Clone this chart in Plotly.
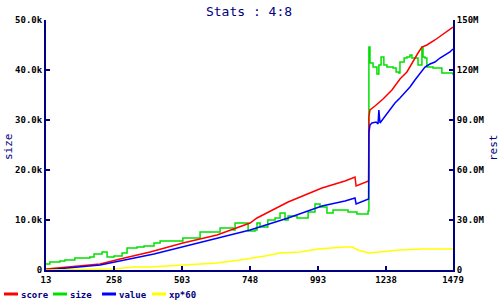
import plotly.graph_objects as go

# ---- data ----
score_x = [13, 208, 280, 388, 506, 629, 748, 773, 885, 1007, 1090, 1126, 1130, 1175,
           1176, 1180, 1198, 1227, 1259, 1288, 1313, 1335, 1353, 1367, 1385, 1414, 1450, 1479]
score_y = [0.6, 3.6, 6.6, 10.8, 16.2, 21.0, 28.2, 31.2, 40.8, 49.2, 53.4, 55.8, 50.4, 53.4,
           91.8, 96.0, 98.4, 102.6, 108.0, 114.6, 118.8, 125.4, 130.2, 133.8, 135.0, 138.0, 142.2, 145.8]

value_x = [13, 208, 402, 506, 629, 748, 885, 1007, 1090, 1126, 1130, 1162, 1175,
           1176, 1180, 1187, 1202, 1209, 1212, 1216, 1234, 1252, 1270, 1288, 1306, 1324,
           1342, 1360, 1378, 1396, 1414, 1432, 1450, 1468, 1479]
value_y = [0.0, 3.0, 9.6, 13.8, 19.2, 24.0, 31.2, 38.4, 41.4, 43.2, 39.6, 42.0, 42.6,
           82.2, 87.0, 88.2, 88.8, 87.6, 96.0, 88.2, 92.4, 96.0, 100.2, 103.2, 106.2, 109.8,
           114.0, 118.2, 121.8, 123.6, 124.8, 127.2, 129.0, 130.8, 132.6]

size_x = [13, 27, 63, 81, 117, 171, 186, 215, 233, 258, 287, 305, 341, 366, 402, 424, 506,
          568, 629, 640, 687, 694, 723, 741, 766, 773, 784, 802, 812, 838, 856, 870, 874,
          885, 917, 957, 982, 1000, 1025, 1047, 1090, 1101, 1126, 1133, 1173,
          1176, 1180, 1191, 1205, 1209, 1212, 1220, 1227, 1230, 1241, 1259, 1263, 1274,
          1284, 1288, 1303, 1313, 1324, 1331, 1349, 1353, 1364, 1367, 1371, 1378, 1385,
          1403, 1407, 1432, 1439, 1468, 1479]
size_y = [1.2, 1.6, 1.8, 2.0, 2.4, 2.6, 3.2, 3.6, 2.6, 2.8, 3.4, 4.4, 4.6, 4.8, 5.4, 5.8, 6.4,
          7.6, 7.6, 8.4, 8.0, 9.4, 9.4, 7.8, 8.0, 9.4, 8.6, 8.6, 10.0, 10.4, 11.4, 11.4, 10.0,
          10.8, 10.4, 11.6, 13.2, 12.6, 11.4, 12.0, 12.0, 11.6, 11.6, 11.2, 11.8,
          44.6, 41.4, 40.6, 39.2, 39.2, 41.0, 42.6, 42.6, 41.0, 40.6, 40.6, 40.4, 39.6,
          39.4, 41.6, 42.4, 42.6, 43.0, 42.4, 42.4, 41.0, 41.0, 44.6, 42.6, 42.4, 40.6,
          40.6, 40.4, 40.4, 39.4, 39.4, 39.0]

xp_x = [13, 117, 135, 258, 330, 388, 449, 506, 604, 629, 712, 766, 802, 856, 928, 993,
        1036, 1090, 1115, 1137, 1176, 1209, 1234, 1288, 1367, 1479]
xp_y = [0.0, 0.0, 0.3, 0.6, 1.8, 1.8, 2.4, 3.0, 3.6, 4.2, 6.0, 7.2, 8.4, 10.2, 10.8, 12.6,
        13.2, 13.8, 13.8, 12.0, 10.2, 10.8, 11.4, 12.0, 12.6, 12.6]

x_ticks = [13, 258, 503, 748, 993, 1238, 1479]
left_ticks = [0, 10, 20, 30, 40, 50]
left_labels = ["0", "10.0k", "20.0k", "30.0k", "40.0k", "50.0k"]
right_ticks = [0, 30, 60, 90, 120, 150]
right_labels = ["0", "30.0M", "60.0M", "90.0M", "120M", "150M"]

series_names = ["score", "size", "value", "xp*60"]
series_colors = ["#ff0000", "#00e000", "#0000ff", "#ffff00"]

NAVY = "#000080"
MONO = "DejaVu Sans Mono"

fig = go.Figure()
fig.add_trace(go.Scatter(x=score_x, y=score_y, name=series_names[0], yaxis="y2",
                         mode="lines", line=dict(color=series_colors[0], width=1.5)))
fig.add_trace(go.Scatter(x=size_x, y=size_y, name=series_names[1], yaxis="y",
                         mode="lines", line=dict(color=series_colors[1], width=1.5, shape="hv")))
fig.add_trace(go.Scatter(x=value_x, y=value_y, name=series_names[2], yaxis="y2",
                         mode="lines", line=dict(color=series_colors[2], width=1.5)))
fig.add_trace(go.Scatter(x=xp_x, y=xp_y, name=series_names[3], yaxis="y2",
                         mode="lines", line=dict(color=series_colors[3], width=1.5)))

axis_common = dict(showgrid=False, zeroline=False, showline=True, linecolor=NAVY,
                   linewidth=2, ticks="inside", ticklen=4, tickwidth=2, tickcolor=NAVY,
                   tickfont=dict(family=MONO, size=9, color="black", weight="bold"))

# plot area geometry in pixels (for placing the custom legend)
PL, PR, PT, PB = 46, 453, 20, 270
PW, PH = PR - PL, PB - PT


def px_to_paper_x(px):
    return (px - PL) / PW


def py_to_paper_y(py):
    return (PB - py) / PH


legend_key_starts = [4, 53, 102, 152]  # pixel x of each legend key
legend_y = 294
shapes = []
annotations = [
    dict(text="size", xref="paper", yref="paper", x=px_to_paper_x(8), y=py_to_paper_y(147),
         textangle=-90, showarrow=False, font=dict(family=MONO, size=11, color=NAVY),
         xanchor="center", yanchor="middle"),
    dict(text="rest", xref="paper", yref="paper", x=px_to_paper_x(493), y=py_to_paper_y(147),
         textangle=-90, showarrow=False, font=dict(family=MONO, size=11, color=NAVY),
         xanchor="center", yanchor="middle"),
]
for name, color, kx in zip(series_names, series_colors, legend_key_starts):
    shapes.append(dict(type="line", xref="paper", yref="paper",
                       x0=px_to_paper_x(kx), x1=px_to_paper_x(kx + 14),
                       y0=py_to_paper_y(legend_y), y1=py_to_paper_y(legend_y),
                       line=dict(color=color, width=3)))
    annotations.append(dict(text=name, xref="paper", yref="paper",
                            x=px_to_paper_x(kx + 15), y=py_to_paper_y(legend_y + 1),
                            xanchor="left", yanchor="middle", showarrow=False,
                            font=dict(family=MONO, size=9, color=NAVY, weight="bold")))

fig.update_layout(
    width=500, height=300,
    margin=dict(l=PL, r=500 - PR, t=PT, b=300 - PB, autoexpand=False),
    paper_bgcolor="white", plot_bgcolor="white",
    title=dict(text="Stats : 4:8", x=0.498, xanchor="center", y=0.962, yanchor="middle",
               yref="container", font=dict(family=MONO, size=13, color=NAVY)),
    xaxis=dict(range=[13, 1479], tickmode="array", tickvals=x_ticks,
               ticktext=[str(v) for v in x_ticks], **axis_common),
    yaxis=dict(range=[0, 50], tickmode="array", tickvals=left_ticks, ticktext=left_labels,
               **axis_common),
    yaxis2=dict(range=[0, 150], tickmode="array", tickvals=right_ticks, ticktext=right_labels,
                overlaying="y", side="right", **axis_common),
    showlegend=False,
    shapes=shapes,
    annotations=annotations,
)

fig.write_html("out.html")
